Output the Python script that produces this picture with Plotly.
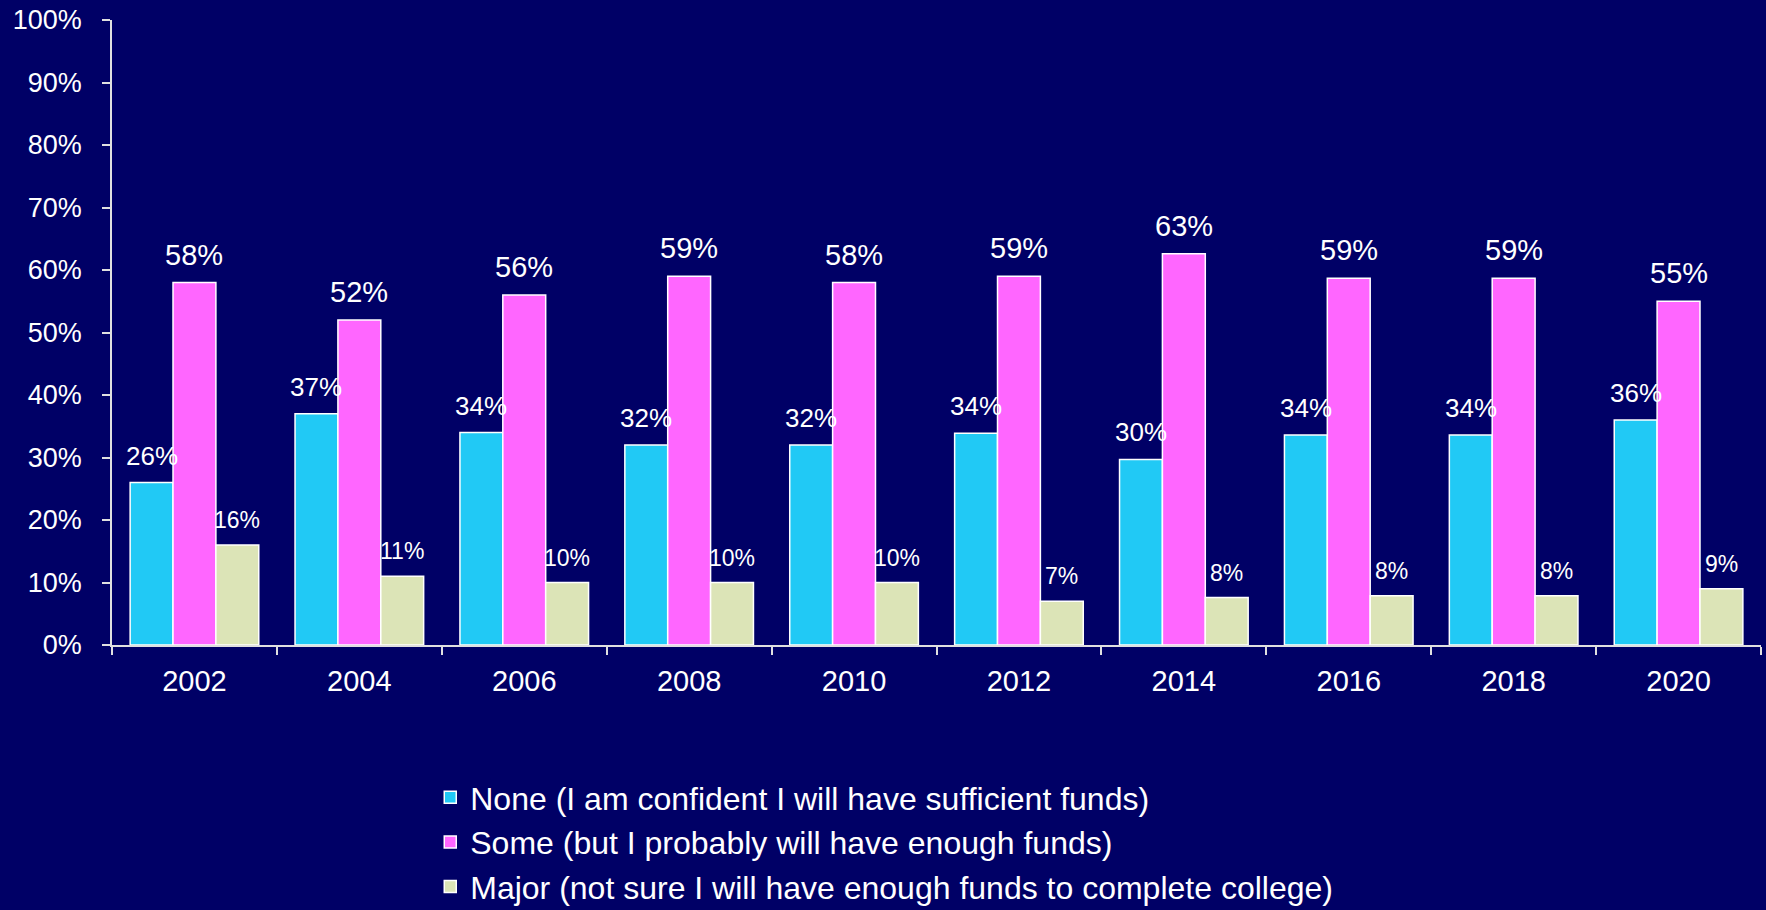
import plotly.graph_objects as go

years = ["2002", "2004", "2006", "2008", "2010", "2012", "2014", "2016", "2018", "2020"]
none_vals = [26, 37, 34, 32, 32, 33.9, 29.7, 33.6, 33.6, 36]
some_vals = [58, 52, 56, 59, 58, 59, 62.6, 58.7, 58.7, 55]
major_vals = [16, 11, 10, 10, 10, 7, 7.6, 7.9, 7.9, 9]
series_names = [
    "None (I am confident I will have sufficient funds)",
    "Some (but I probably will have enough funds)",
    "Major (not sure I will have enough funds to complete college)",
]
series_vals = [none_vals, some_vals, major_vals]
colors = ["#21C9F5", "#FF66FF", "#DCE4B7"]
label_sizes = [26, 29, 23]

BG = "#000066"
FONT = "Liberation Sans, Arial, sans-serif"
BARGAP = 0.22

fig = go.Figure()
for k, (name, vals, c) in enumerate(zip(series_names, series_vals, colors)):
    fig.add_trace(go.Bar(
        x=years, y=vals, name=name,
        marker=dict(color=c, line=dict(color="white", width=1.5)),
    ))

# value labels (category axis: positions by serial index)
bar_frac = (1 - BARGAP) / 3
for i, (vals, fs) in enumerate(zip(series_vals, label_sizes)):
    for j, v in enumerate(vals):
        fig.add_annotation(
            x=j + (i - 1) * bar_frac, y=v, xref="x", yref="y",
            text=f"{v:.0f}%", showarrow=False,
            yshift=10, yanchor="bottom",
            font=dict(family=FONT, size=fs, color="white"),
        )

fig.update_layout(
    width=1766, height=910,
    paper_bgcolor=BG, plot_bgcolor=BG,
    barmode="group", bargap=BARGAP, bargroupgap=0,
    margin=dict(l=112, r=5, t=20, b=265, autoexpand=False),
    font=dict(family=FONT, color="white", size=27),
    legend=dict(
        orientation="v", x=0.193, xanchor="left", y=-0.2, yanchor="top",
        font=dict(family=FONT, size=32, color="white"),
        bgcolor="rgba(0,0,0,0)",
    ),
    showlegend=True,
)
fig.update_xaxes(
    type="category", range=[-0.5, len(years) - 0.5], automargin=False,
    showline=True, linecolor="#E0E0E0", linewidth=1.5,
    ticks="outside", tickson="boundaries", ticklen=8, tickcolor="#E0E0E0", tickwidth=1.5,
    tickfont=dict(family=FONT, size=29, color="white"), showgrid=False, tickangle=0,
    ticklabelstandoff=9,
)
fig.update_yaxes(
    range=[0, 100], dtick=10, ticksuffix="%", automargin=False,
    showline=True, linecolor="#E0E0E0", linewidth=1.5,
    ticks="outside", ticklen=8, tickcolor="#E0E0E0", tickwidth=1.5,
    tickfont=dict(family=FONT, size=27, color="white"), showgrid=False, zeroline=False,
    ticklabelstandoff=15,
)

fig.write_html(
    "out.html",
    config={"displayModeBar": False},
    post_script="document.body.style.margin='0';document.body.style.background='#000066';",
)
